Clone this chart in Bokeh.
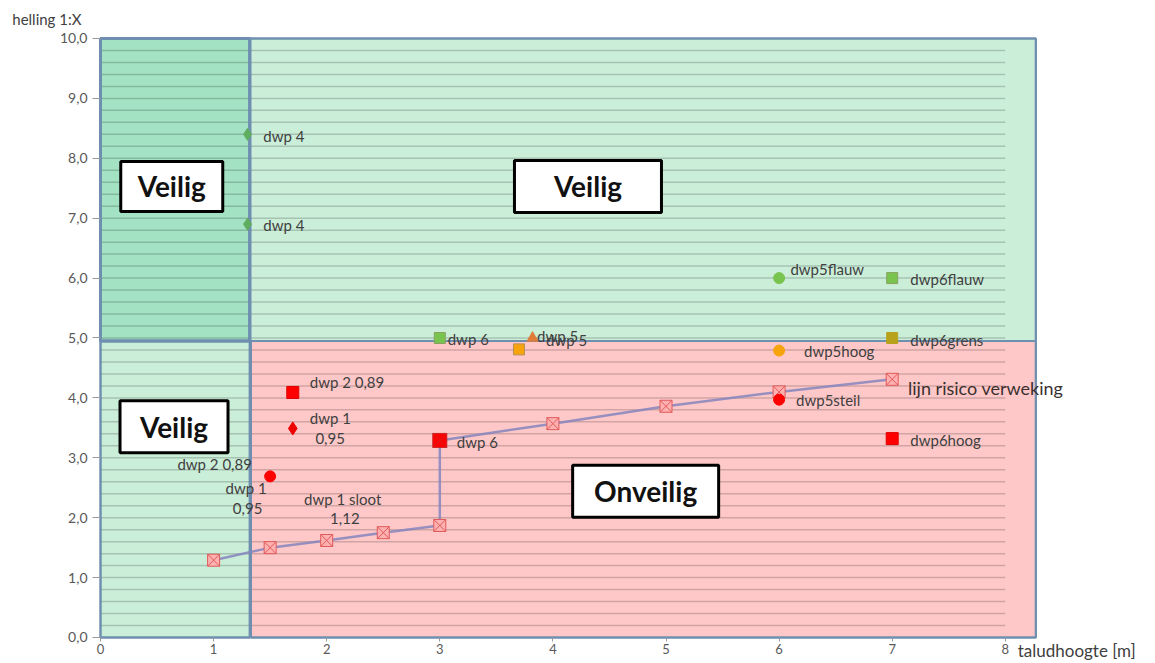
import numpy as np
from bokeh.plotting import figure
from bokeh.models import Range1d, FixedTicker, CustomJSTickFormatter, LinearAxis, ColumnDataSource
from bokeh.core.properties import value
from bokeh.embed import file_html
from bokeh.resources import INLINE

FONT = "Lato"
TXT = "#404040"

# ---- background zones ----
zone_left = [1.32, 0.0, 1.33, 0.0]
zone_right = [8.27, 1.32, 8.27, 1.32]
zone_bottom = [4.95, 0.0, 0.0, 4.95]
zone_top = [10.0, 4.95, 4.95, 10.0]
zone_color = ["#cbeed9", "#cbeed9", "#ffc8c8", "#a3e2c3"]
zone_line_w = [2, 2, 2, 3]

# ---- risk line (lijn risico verweking) ----
risk_x = [1.0, 1.5, 2.0, 2.5, 3.0, 3.0, 4.0, 5.0, 6.0, 7.0]
risk_y = [1.29, 1.50, 1.62, 1.75, 1.87, 3.29, 3.57, 3.86, 4.10, 4.31]

# ---- data points ----
dwp4_x = [1.3, 1.3]
dwp4_y = [8.4, 6.9]
green_sq_x = [3.0, 7.0]
green_sq_y = [5.0, 6.0]
green_circ_x = [6.0]
green_circ_y = [6.0]
olive_sq_x = [7.0]
olive_sq_y = [5.0]
orange_sq_x = [3.7]
orange_sq_y = [4.81]
orange_tri_x = [3.82]
orange_tri_y = [5.0]
orange_circ_x = [6.0]
orange_circ_y = [4.79]
red_circ_x = [6.0, 1.5]
red_circ_y = [3.97, 2.69]
red_sq_x = [7.0, 1.7]
red_sq_y = [3.32, 4.09]
red_dia_x = [1.7]
red_dia_y = [3.49]
red_tri_x = [1.7]
red_tri_y = [2.40]
red_sqx_x = [3.0]
red_sqx_y = [3.29]

# ---- point labels ----
lab_text = ["dwp 4", "dwp 4", "dwp 6", "dwp 5", "dwp 5", "dwp5flauw", "dwp6flauw",
            "dwp6grens", "dwp5hoog", "dwp5steil", "dwp6hoog",
            "dwp 2 0,89", "dwp 1", "0,95", "dwp 6",
            "dwp 2 0,89", "dwp 1", "0,95", "dwp 1 sloot", "1,12"]
lab_x = [1.44, 1.44, 3.07, 3.86, 3.94, 6.10, 7.16,
         7.16, 6.22, 6.15, 7.16,
         1.85, 1.85, 1.90, 3.15,
         0.68, 1.105, 1.17, 1.80, 2.03]
lab_y = [8.38, 6.88, 4.99, 5.03, 4.96, 6.16, 5.98,
         4.97, 4.79, 3.96, 3.29,
         4.26, 3.66, 3.32, 3.27,
         2.89, 2.49, 2.15, 2.32, 1.99]

risk_label = ["lijn risico verweking"]
risk_label_x = [7.14]
risk_label_y = [4.16]

# ---- zone boxes ----
box_text = ["Veilig", "Veilig", "Veilig", "Onveilig"]
box_x = [0.63, 4.31, 0.65, 4.82]
box_y = [7.53, 7.53, 3.52, 2.44]
box_w = [102, 147, 108, 146]
box_h = [50, 52, 52, 52]

# ---- axes ----
x_ticks = [0, 1, 2, 3, 4, 5, 6, 7, 8]
y_ticks = [0, 1, 2, 3, 4, 5, 6, 7, 8, 9, 10]
x_title = ["taludhoogte [m]"]
x_title_x = [8.11]
x_title_y = [-0.22]
y_title = ["helling 1:X"]
y_title_x = [-0.78]
y_title_y = [10.33]

grid_step = 0.2

p = figure(width=1150, height=660, output_backend="svg", toolbar_location=None,
           x_range=Range1d(-0.8842, 9.2838), y_range=Range1d(-0.384, 10.634),
           x_axis_location=None, y_axis_location=None,
           min_border=0)
p.outline_line_color = None
p.background_fill_color = "white"
p.xgrid.visible = False
p.ygrid.visible = False

# zones
p.quad(left=zone_left, right=zone_right, bottom=zone_bottom, top=zone_top,
       fill_color=zone_color, line_color="#6f8fb0", line_width=zone_line_w)

# horizontal gridlines over zones
gy = np.round(np.arange(grid_step, 10.0, grid_step), 2)
p.segment(x0=0, x1=8, y0=gy, y1=gy, line_color="black", line_alpha=0.18, line_width=1.5)

# zone borders on top of grid lines
p.quad(left=zone_left, right=zone_right, bottom=zone_bottom, top=zone_top,
       fill_color=None, line_color="#6f8fb0", line_width=zone_line_w)

# risk line
p.line(risk_x, risk_y, line_color="#8585bd", line_width=2.5, line_alpha=0.85)
p.scatter(risk_x, risk_y, marker="square_x", size=12, fill_color="#ffb0b0",
          line_color="#e05a5a", line_width=1)

# points
p.scatter(dwp4_x, dwp4_y, marker="diamond", size=12, fill_color="#5fae5f", line_color="#5fae5f")
p.scatter(green_sq_x, green_sq_y, marker="square", size=11, fill_color="#78c44f", line_color="#8aa060")
p.scatter(green_circ_x, green_circ_y, marker="circle", size=11, fill_color="#78c44f", line_color="#78c44f")
p.scatter(olive_sq_x, olive_sq_y, marker="square", size=11, fill_color="#b8a21c", line_color="#b8a21c")
p.scatter(orange_sq_x, orange_sq_y, marker="square", size=11, fill_color="#f7a30c", line_color="#b99050")
p.scatter(orange_tri_x, orange_tri_y, marker="triangle", size=11, fill_color="#e07c3a", line_color="#e07c3a")
p.scatter(orange_circ_x, orange_circ_y, marker="circle", size=11, fill_color="#f7a30c", line_color="#f7a30c")
p.scatter(red_circ_x, red_circ_y, marker="circle", size=11, fill_color="#ff0000", line_color="#ff0000")
p.scatter(red_sq_x, red_sq_y, marker="square", size=12, fill_color="#ff0000", line_color="#e00000")
p.scatter(red_dia_x, red_dia_y, marker="diamond", size=13, fill_color="#ee0000", line_color="#ee0000")
p.scatter(red_tri_x, red_tri_y, marker="triangle_x", size=13, fill_color="#dd0000", line_color="#7a2020")
p.scatter(red_sqx_x, red_sqx_y, marker="square_x", size=14, fill_color="#ff0000", line_color="#cc2222")

# labels
p.text(lab_x, lab_y, text=lab_text, text_font=value(FONT), text_font_size="15px",
       text_color=TXT, text_baseline="middle", text_align="left")
p.text(risk_label_x, risk_label_y, text=risk_label, text_font=value(FONT), text_font_size="18px",
       text_color="#3a3030", text_baseline="middle", text_align="left")

# boxes
src = ColumnDataSource(dict(x=box_x, y=box_y, w=box_w, h=box_h, t=box_text))
p.rect(x="x", y="y", width="w", height="h", width_units="screen", height_units="screen",
       source=src, fill_color="white", line_color="black", line_width=3)
p.text(x="x", y="y", text="t", source=src, text_font=value(FONT), text_font_style="bold",
       text_font_size="28px", text_color="#111111", text_align="center", text_baseline="middle")

# axis titles
p.text(y_title_x, y_title_y, text=y_title, text_font=value(FONT), text_font_size="15px",
       text_color=TXT, text_baseline="middle", text_align="left")
p.text(x_title_x, x_title_y, text=x_title, text_font=value(FONT), text_font_size="17px",
       text_color=TXT, text_baseline="middle", text_align="left")

# axes fixed at the origin
xaxis = LinearAxis(fixed_location=0, ticker=FixedTicker(ticks=x_ticks), bounds=(0, 8))
yaxis = LinearAxis(fixed_location=0, ticker=FixedTicker(ticks=y_ticks), bounds=(0, 10),
                   formatter=CustomJSTickFormatter(code="return tick.toFixed(1).replace('.', ',');"))
for ax in (xaxis, yaxis):
    ax.axis_line_color = None
    ax.major_tick_line_color = "#9a9a9a"
    ax.minor_tick_line_color = None
    ax.major_tick_in = 0
    ax.major_label_text_font = FONT
    ax.major_label_text_font_size = "14px"
    ax.major_label_text_color = "#595959"
yaxis.major_tick_out = 8
yaxis.major_label_standoff = 5
xaxis.major_tick_out = 4
xaxis.major_label_standoff = 3
xaxis.major_label_text_font_size = "13px"
p.add_layout(xaxis, "below")
p.add_layout(yaxis, "left")

open("out.html", "w").write(file_html(p, INLINE))
